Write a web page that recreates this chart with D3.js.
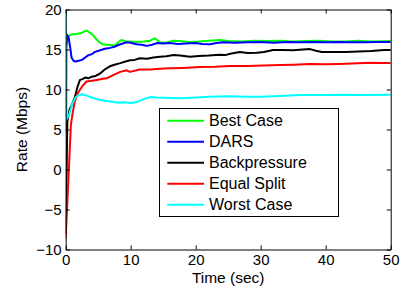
<!DOCTYPE html>
<html><head><meta charset="utf-8">
<script src="https://cdn.jsdelivr.net/npm/d3@7"></script>
<style>body{margin:0;background:#fff}svg{display:block}text{font-family:"Liberation Sans",Arial,sans-serif}</style>
</head><body><svg id="c" width="402" height="290"></svg>
<script>
const seriesNames = ["Best Case","DARS","Backpressure","Equal Split","Worst Case"];
const seriesColors = ["#00ff00","#0000ff","#000000","#ff0000","#00ffff"];
const xTicks = [0,10,20,30,40,50];
const yTicks = [-10,-5,0,5,10,15,20];

const bestT = [0,0.2,0.4,0.7,1,1.5,2,2.5,3,3.3,3.7,4.2,4.7,5.2,5.7,6.3,7,7.6,8.2,8.6,9.2,10,11,12,13,13.7,14.5,15.5,16.5,17.5,19,20.5,22,23.7,25,27,29,31,33,35,37,39,41,43,45,47,50];
const best  = [4.8,16.4,16.6,16.8,16.9,16.9,17.0,17.1,17.3,17.35,17.1,16.8,16.3,15.9,15.65,15.6,15.55,15.5,16.0,16.2,16.0,16.0,15.95,16.0,16.1,16.4,15.9,15.85,16.1,16.05,15.95,16.0,16.1,16.2,16.05,16.0,16.1,16.05,16.1,16.0,16.05,16.1,16.0,16.0,16.1,16.0,16.05];

const darsT = [0.1,0.25,0.45,0.7,0.9,1.2,1.5,2,2.5,3,3.5,4,4.5,5.3,6,6.8,7.5,8.4,9.4,10,10.9,11.7,12.5,13.3,14,15,16,17.3,18.5,20,21,22.2,23.2,24.2,26,28,30,32,34,36,38,40,42,44,46,48,50];
const dars  = [15.5,16.8,16.5,15.2,14.0,13.6,13.5,13.6,13.7,14.0,14.3,14.4,14.7,14.9,15.1,15.2,15.35,15.65,15.9,15.85,15.65,15.6,15.45,15.6,15.8,15.75,15.8,15.7,15.75,15.8,15.7,15.65,15.8,15.9,15.85,15.9,15.95,15.85,15.95,15.9,15.95,15.9,15.95,15.9,15.9,15.95,15.95];

const bpT = [0,0.25,0.6,1,1.4,1.8,2.2,2.6,3,3.5,4,4.6,5.3,6,6.8,7.5,8.4,9.2,9.9,10.6,11.4,12.5,13.5,14.5,15.5,16.6,17.6,19.1,20.5,22,23.7,24.5,25.5,26.8,28,29.4,30.5,31.9,33.5,35,36.5,37.6,38.5,39.4,41,43.2,45,47,49,50];
const bp  = [-8,6.0,7.5,8.2,9.0,10.3,11.2,11.3,11.5,11.4,11.6,11.7,12.0,12.5,12.9,13.1,13.3,13.5,13.65,13.7,13.9,13.85,14.0,14.1,14.15,14.3,14.25,14.1,14.2,14.25,14.35,14.3,14.5,14.7,14.55,14.6,14.7,14.95,14.95,14.9,15.0,15.05,14.85,14.7,14.7,14.7,14.75,14.8,14.95,14.95];

const eqT = [0,0.4,0.8,1.1,1.4,1.9,2.5,3.2,4,4.8,5.5,6.3,7.3,8.4,9.4,9.9,11.4,13,14.5,16,18,20.7,23,25.3,28,30.4,33,35,37.6,40,42,44,46.8,48.5,50];
const eq  = [-8.6,-1.5,5.6,7.2,8.5,9.6,10.35,11.0,11.1,11.2,11.3,11.4,11.8,12.2,12.4,12.2,12.5,12.5,12.6,12.65,12.7,12.8,12.85,12.95,12.95,13.0,13.05,13.1,13.2,13.15,13.2,13.25,13.35,13.3,13.3];

const worstT = [0,0.15,0.5,1,1.5,2,2.5,3,4,5,6,7,8,9,10,11,12,13,14,16,18,20,22,25,28,30,33,36,40,43,46,50];
const worst  = [20,6.3,6.8,8.2,9.0,9.3,9.4,9.3,9.0,8.75,8.6,8.5,8.35,8.4,8.3,8.45,8.8,9.05,9.0,8.95,8.9,9.0,9.1,9.15,9.1,9.1,9.2,9.3,9.3,9.35,9.3,9.35];

const allT = [bestT,darsT,bpT,eqT,worstT];
const allV = [best,dars,bp,eq,worst];

const L=65.7, R=390.7, T=9.5, B=249.5;
const svg = d3.select("#c");
svg.append("rect").attr("width",402).attr("height",290).attr("fill","#fff");
const x = d3.scaleLinear().domain([0,50]).range([L,R]);
const y = d3.scaleLinear().domain([-10,20]).range([B,T]);

const clipId="pc";
svg.append("clipPath").attr("id",clipId).append("rect").attr("x",L).attr("y",T).attr("width",R-L).attr("height",B-T);

const line = d3.line().x(d=>x(d[0])).y(d=>y(d[1]));
const gLines = svg.append("g").attr("clip-path","url(#pc)");
allT.forEach((ts,i)=>{
  const data = ts.map((t,j)=>[t,allV[i][j]]);
  gLines.append("path").datum(data).attr("d",line).attr("fill","none")
    .attr("stroke",seriesColors[i]).attr("stroke-width",2).attr("stroke-linejoin","round");
});

const fmt = d=> d<0 ? "\u2212"+Math.abs(d) : String(d);
function style(g){ g.selectAll("path,line").attr("stroke","#000").attr("stroke-width",1); g.selectAll("text").attr("fill","#000").style("font-size","15px").style("font-family","'Liberation Sans',Arial,sans-serif"); }
svg.append("g").attr("transform",`translate(0,${B})`).call(d3.axisBottom(x).tickValues(xTicks).tickFormat(fmt).tickSizeInner(-4).tickSizeOuter(0).tickPadding(5)).call(style);
svg.append("g").attr("transform",`translate(0,${T})`).call(d3.axisTop(x).tickValues(xTicks).tickFormat("").tickSizeInner(-4).tickSizeOuter(0)).call(style);
svg.append("g").attr("transform",`translate(${L},0)`).call(d3.axisLeft(y).tickValues(yTicks).tickFormat(fmt).tickSizeInner(-4).tickSizeOuter(0).tickPadding(4)).call(style);
svg.append("g").attr("transform",`translate(${R},0)`).call(d3.axisRight(y).tickValues(yTicks).tickFormat("").tickSizeInner(-4).tickSizeOuter(0)).call(style);
svg.selectAll(".domain").attr("fill","none");

svg.append("text").attr("x",(L+R)/2).attr("y",283).attr("text-anchor","middle").style("font-size","15.5px").text("Time (sec)");
svg.append("text").attr("transform",`translate(27,${(T+B)/2}) rotate(-90)`).attr("text-anchor","middle").style("font-size","15.5px").text("Rate (Mbps)");

// legend
const lg = svg.append("g");
lg.append("rect").attr("x",159.5).attr("y",108.5).attr("width",179).attr("height",208).attr("height",108).attr("fill","#fff").attr("stroke","#000").attr("stroke-width",1);
const rowY = d3.scalePoint().domain(seriesNames).range([120.7,204.7]);
seriesNames.forEach((n,i)=>{
  const yy=rowY(n);
  lg.append("line").attr("x1",167.3).attr("x2",204).attr("y1",yy).attr("y2",yy).attr("stroke",seriesColors[i]).attr("stroke-width",2);
  lg.append("text").attr("x",209).attr("y",yy+5.6).style("font-size","16px").text(n);
});
</script></body></html>
